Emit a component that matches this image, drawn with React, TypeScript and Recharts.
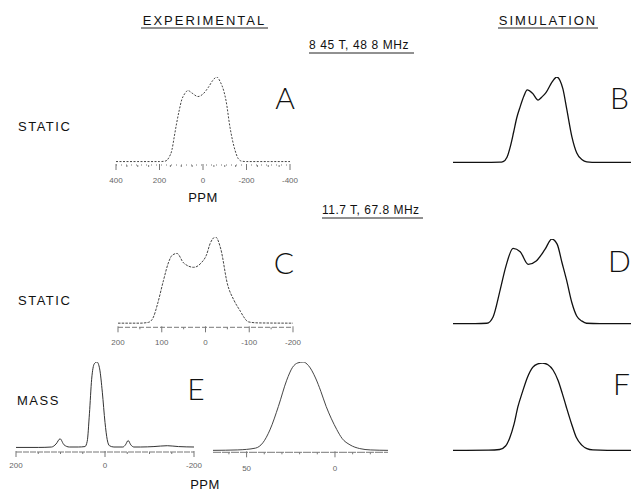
import { LineChart, Line, XAxis, YAxis } from "recharts";

// ---- spectrum A: experimental, static, 8.45 T (ppm / relative intensity)
const aPpm = [400, 300, 200, 175, 166, 155, 143, 132, 121, 110, 98, 85, 69, 50, 23, 0, -25, -45, -63, -80, -95, -106, -124, -147, -162, -178, -200, -300, -400];
const aInt = [0.5, 0.5, 0.5, 1, 2, 6, 14, 30, 46, 60, 73, 80, 84, 81, 77, 80, 88, 96, 100, 94, 84, 72, 41, 14, 4, 1, 0.5, 0.5, 0.5];

// ---- spectrum B: simulation of A
const bPpm = [372, 250, 180, 166, 150, 135, 123, 110, 96, 80, 67, 45, 22, 5, -11, -35, -55, -68, -80, -96, -117, -137, -159, -178, -200, -300, -360];
const bInt = [0, 0, 0.3, 1, 6, 20, 35, 52, 65, 78, 85, 81, 73, 77, 82, 94, 100, 96, 86, 62, 30, 11, 3, 0.5, 0, 0, 0];

// ---- spectrum C: experimental, static, 11.7 T
const cPpm = [200, 150, 130, 119, 110, 96, 85, 76, 65, 50, 27, 10, -2, -11, -23, -35, -50, -65, -80, -87, -98, -120, -200];
const cInt = [0.5, 0.5, 1.5, 7.6, 22, 50, 70, 79, 81, 70, 65, 70, 79, 93, 100, 86, 46, 27, 14, 8, 2, 0.8, 0.5];

// ---- spectrum D: simulation of C
const dPpm = [200, 150, 124, 110, 94, 81, 65, 49, 31, 13, -7, -22, -34, -45, -55, -67, -78, -90, -100, -130, -200];
const dInt = [0, 0, 0.5, 8, 40, 68, 89, 85, 70, 74, 88, 100, 94, 72, 52, 25, 9, 3, 0.5, 0, 0];

// ---- spectrum E: MAS, wide window
const ePpm = [200, 150, 120, 110, 101, 92, 80, 60, 45, 40, 35, 30, 24, 18, 12, 6, 0, -5, -10, -20, -40, -46, -52, -58, -65, -80, -110, -140, -165, -200];
const eInt = [1, 1, 1.5, 5, 11, 4, 1.5, 1.5, 2, 8, 40, 80, 98, 100, 92, 65, 30, 10, 3, 1.5, 1.5, 4, 9, 4, 1.5, 1.5, 2, 3, 2, 1.5];

// ---- spectrum E (expanded centre band)
const e2Ppm = [69, 55, 45, 40.8, 36.8, 32, 27.3, 24, 21, 18, 15, 11, 8, 5, 2, -1, -4, -8.5, -14, -20, -30];
const e2Int = [0.5, 1, 3, 9, 23.5, 50, 79.5, 94, 99, 100, 96, 82, 67, 50, 36, 24, 14, 6.7, 2.5, 1, 0.5];

// ---- spectrum F: simulation of the MAS line
const fPpm = [71, 50, 43.5, 40, 37.6, 35, 32.7, 30, 27, 24, 21, 18.3, 15, 12, 9, 6.5, 4.2, 1, -1.7, -5, -8, -11.5, -20, -34];
const fInt = [0, 0.3, 1, 5, 14, 30, 50, 67, 84, 95, 99, 100, 98, 92, 80, 65, 50, 30, 15, 6, 2, 0.5, 0, 0];

// ---- axis ticks (ppm)
const aTicks = [400, 350, 300, 250, 200, 150, 100, 50, 0, -50, -100, -150, -200, -250, -300, -350, -400];
const aMajor = [400, 200, 0, -200, -400];
const cTicks = [200, 150, 100, 50, 0, -50, -100, -150, -200];
const cMajor = [200, 100, 0, -100, -200];
const eTicks = [200, 150, 100, 50, 0, -50, -100, -150, -200];
const eMajor = [200, 0, -200];
const e2Ticks = [60, 50, 40, 30, 20, 10, 0, -10, -20];
const e2Major = [50, 0];

const SANS = "'Liberation Sans', Arial, Helvetica, sans-serif";

function AxisTick(props: any) {
  const { x, y, payload, majors, dy } = props;
  const v = payload.value;
  const major = majors.includes(v);
  return (
    <g>
      <line x1={x} x2={x} y1={y - (major ? 1 : 0)} y2={y + (major ? 5 : 2)} stroke="#777" strokeWidth={1} />
      {major && (
        <text x={x} y={y + dy} textAnchor="middle" dominantBaseline="central" fontSize={8} fill="#666" fontFamily={SANS}>
          {v}
        </text>
      )}
    </g>
  );
}

type SpecProps = {
  ppm: number[];
  vals: number[];
  left: number;
  right: number;
  top: number;
  base: number;
  axisY?: number;
  domain: [number, number];
  ticks?: number[];
  majors?: number[];
  labelDy?: number;
  axisDash?: string;
  stroke: string;
  dash?: string;
  width?: number;
};

function Spectrum(p: SpecProps) {
  const pad = 3;
  const side = 14;
  const unit = (p.base - p.top) / 100;
  const axisY = p.axisY ?? p.base + 2;
  const yMin = -(axisY - p.base) / unit;
  const axisH = p.ticks ? 24 : 0;
  const w = p.right - p.left + side * 2;
  const h = pad + (axisY - p.top) + axisH;
  const data = p.ppm.map((x, i) => ({ ppm: x, v: p.vals[i] }));
  return (
    <div style={{ position: "absolute", left: p.left - side, top: p.top - pad }}>
      <LineChart width={w} height={h} data={data} margin={{ top: pad, right: side, bottom: 0, left: side }}>
        <XAxis
          type="number"
          dataKey="ppm"
          domain={p.domain}
          reversed
          allowDataOverflow
          hide={!p.ticks}
          ticks={p.ticks}
          interval={0}
          height={axisH}
          tickSize={0}
          tickMargin={0}
          tickLine={false}
          axisLine={p.axisDash ? { stroke: "#777", strokeDasharray: p.axisDash } : false}
          tick={(tp: any) => <AxisTick {...tp} majors={p.majors ?? []} dy={p.labelDy ?? 14} />}
        />
        <YAxis hide type="number" domain={[yMin, 100]} allowDataOverflow />
        <Line
          type="monotone"
          dataKey="v"
          stroke={p.stroke}
          strokeWidth={p.width ?? 1}
          strokeDasharray={p.dash}
          dot={false}
          isAnimationActive={false}
        />
      </LineChart>
    </div>
  );
}

function Label({ x, y, text, size = 13, spacing = 0, anchor = "start", underline, weight, family = SANS }: any) {
  return (
    <>
      <text
        x={x}
        y={y}
        fontSize={size}
        letterSpacing={spacing}
        textAnchor={anchor}
        dominantBaseline="central"
        fontFamily={family}
        fontWeight={weight}
        fill="#111"
      >
        {text}
      </text>
      {underline && <line x1={underline[0]} x2={underline[1]} y1={y + 8} y2={y + 8} stroke="#222" strokeWidth={1} />}
    </>
  );
}

const LETTER_FONT = "Lato, 'Liberation Sans', sans-serif";

export default function App() {
  return (
    <div style={{ position: "absolute", left: 0, top: 0, width: 631, height: 493, background: "#fff", overflow: "hidden" }}>
      <Spectrum ppm={aPpm} vals={aInt} left={116} right={290} top={77} base={162} axisY={165} domain={[-400, 400]}
        ticks={aTicks} majors={aMajor} labelDy={15} axisDash="1 4" stroke="#444" dash="2 1.5" />
      <Spectrum ppm={bPpm} vals={bInt} left={453} right={631} top={77.3} base={162.7} domain={[-360, 372]}
        stroke="#111" width={1.3} />
      <Spectrum ppm={cPpm} vals={cInt} left={118} right={293} top={236.7} base={323.3} axisY={327} domain={[-200, 200]}
        ticks={cTicks} majors={cMajor} labelDy={15} axisDash="5 2" stroke="#444" dash="2.5 1.2" />
      <Spectrum ppm={dPpm} vals={dInt} left={453} right={631} top={239.3} base={324} domain={[-200, 200]}
        stroke="#111" width={1.3} />
      <Spectrum ppm={ePpm} vals={eInt} left={16} right={194} top={361.7} base={448} axisY={451.7} domain={[-200, 200]}
        ticks={eTicks} majors={eMajor} labelDy={13} axisDash="6 1" stroke="#333" />
      <Spectrum ppm={e2Ppm} vals={e2Int} left={213} right={388} top={361.7} base={450.5} axisY={452} domain={[-30, 69]}
        ticks={e2Ticks} majors={e2Major} labelDy={16} axisDash="8 1" stroke="#444" />
      <Spectrum ppm={fPpm} vals={fInt} left={453} right={631} top={363.3} base={450.7} domain={[-34, 71]}
        stroke="#111" width={1.3} />

      <svg width={631} height={493} style={{ position: "absolute", left: 0, top: 0, pointerEvents: "none" }}>
        <Label x={204.5} y={20} text="EXPERIMENTAL" anchor="middle" spacing={2} underline={[141, 268]} />
        <Label x={548} y={20} text="SIMULATION" anchor="middle" spacing={2} underline={[498, 598]} />
        <Label x={309} y={45} text="8 45 T, 48 8 MHz" size={12} spacing={0.6} underline={[309, 414]} />
        <Label x={322} y={210} text="11.7 T, 67.8 MHz" size={12} spacing={0.5} underline={[322, 423]} />
        <Label x={18} y={126} text="STATIC" spacing={1.5} />
        <Label x={18} y={300} text="STATIC" spacing={1.5} />
        <Label x={17} y={400} text="MASS" spacing={1.5} />
        <Label x={203} y={197} text="PPM" anchor="middle" spacing={0.5} />
        <Label x={205} y={484} text="PPM" anchor="middle" spacing={0.5} />
        <Label x={285} y={97} text="A" size={30} anchor="middle" weight={300} family={LETTER_FONT} />
        <Label x={610} y={97} text="B" size={30} weight={300} family={LETTER_FONT} />
        <Label x={284} y={262} text="C" size={30} anchor="middle" weight={300} family={LETTER_FONT} />
        <Label x={608} y={260} text="D" size={30} weight={300} family={LETTER_FONT} />
        <Label x={196} y={388} text="E" size={30} anchor="middle" weight={300} family={LETTER_FONT} />
        <Label x={613} y={383} text="F" size={30} weight={300} family={LETTER_FONT} />
      </svg>
    </div>
  );
}
